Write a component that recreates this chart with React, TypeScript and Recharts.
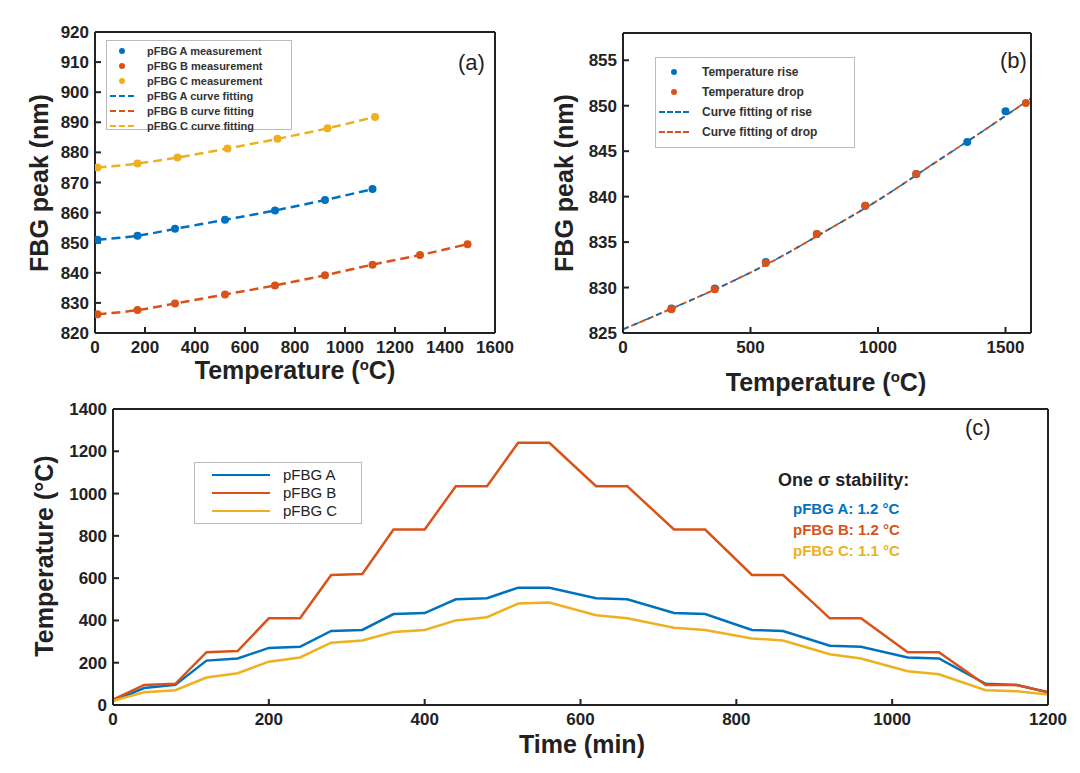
import React from "react";
import { ComposedChart, LineChart, Line, Scatter, XAxis, YAxis } from "recharts";

const BLUE = "#0072BD", ORANGE = "#D95319", YELLOW = "#EDB120";
const FONT = "'Liberation Sans', Arial, sans-serif";

// Panel (a)
const aA = [[10,851],[170,852.3],[320,854.6],[520,857.6],[720,860.7],[920,864.2],[1110,867.8]];
const aB = [[10,826.2],[170,827.6],[320,829.8],[520,832.8],[720,835.8],[920,839.2],[1110,842.7],[1300,845.9],[1490,849.5]];
const aC = [[10,875],[170,876.3],[330,878.3],[530,881.3],[730,884.5],[930,888],[1120,891.8]];
// Panel (b)
const bRise = [[190,827.7],[360,829.9],[560,832.8],[760,835.9],[950,839],[1150,842.5],[1350,846],[1500,849.4]];
const bDrop = [[190,827.6],[360,829.8],[560,832.7],[760,835.9],[950,839],[1150,842.5],[1580,850.3]];
const bFit = [[0,825.4],[200,827.8],[400,830.3],[600,833.1],[800,836.3],[1000,839.6],[1200,843.3],[1400,847],[1600,850.8]];
// Panel (c)
const cTime = [0,40,80,120,160,200,240,280,320,360,400,440,480,520,560,620,660,720,760,820,860,920,960,1020,1060,1120,1160,1200];
const cA = [20,80,95,210,220,270,275,350,355,430,435,500,505,555,555,505,500,435,430,355,350,280,275,225,220,100,95,60];
const cB = [25,95,100,250,255,410,410,615,620,830,830,1035,1035,1240,1240,1035,1035,830,830,615,615,410,410,250,250,95,95,60];
const cC = [20,60,70,130,150,205,225,295,305,345,355,400,415,480,485,425,410,365,355,315,305,240,220,160,145,70,65,50];

const toXY = (arr: number[][]) => arr.map(([x, y]) => ({ x, y }));
const cData = cTime.map((t, i) => ({ t, A: cA[i], B: cB[i], C: cC[i] }));

const tick = { fill: "#222", fontSize: 17, fontWeight: 700, fontFamily: FONT };
const line = { stroke: "#222", strokeWidth: 2 };
const tl = { stroke: "#222", strokeWidth: 2 };

function Axes(xDomain: number[], yDomain: number[], xTicks: number[], yTicks: number[], yw: number, xKey: string) {
  return [
    <XAxis key="x" xAxisId="b" type="number" dataKey={xKey} domain={xDomain} ticks={xTicks} tick={tick} height={30} axisLine={line} tickLine={tl} tickSize={-6} tickMargin={14} allowDataOverflow interval={0} />,
    <XAxis key="xt" xAxisId="t" orientation="top" type="number" dataKey={xKey} domain={xDomain} ticks={xTicks} tick={false} axisLine={line} tickLine={tl} tickSize={-6} height={1} />,
    <YAxis key="y" yAxisId="l" type="number" domain={yDomain} ticks={yTicks} tick={tick} width={yw} axisLine={line} tickLine={tl} tickSize={-6} tickMargin={12} allowDataOverflow interval={0} />,
    <YAxis key="yr" yAxisId="r" orientation="right" type="number" domain={yDomain} ticks={yTicks} tick={false} width={1} axisLine={line} tickLine={tl} tickSize={-6} />,
  ];
}

const legendRow = (kind: "dot" | "dash" | "line", color: string, text: string, w = 30) => (
  <div style={{ display: "flex", alignItems: "center", height: 15 }}>
    <div style={{ width: w, display: "flex", justifyContent: "center", marginRight: 10 }}>
      {kind === "dot" ? <div style={{ width: 6, height: 6, borderRadius: 3, background: color }} /> :
        <div style={{ width: w - 6, borderTop: `2px ${kind === "dash" ? "dashed" : "solid"} ${color}` }} />}
    </div>
    <span>{text}</span>
  </div>
);

const XTitle = ({ cx, top, children }: any) => (
  <div style={{ position: "absolute", left: cx - 200, width: 400, top, textAlign: "center", fontSize: 25, fontWeight: 700, color: "#222", whiteSpace: "nowrap" }}>{children}</div>
);
const YTitle = ({ cx, cy, children }: any) => (
  <div style={{ position: "absolute", left: cx - 150, width: 300, top: cy - 15, height: 30, textAlign: "center", fontSize: 25, fontWeight: 700, color: "#222", whiteSpace: "nowrap", transform: "rotate(-90deg)" }}>{children}</div>
);
const deg = <span><sup style={{ fontSize: 15 }}>o</sup>C</span>;

export default function App() {
  return (
    <div style={{ position: "absolute", left: 0, top: 0, width: 1080, height: 773, background: "#fff", fontFamily: FONT }}>
      <div style={{ position: "absolute", left: 0, top: 0 }}>
        <ComposedChart width={540} height={390} margin={{ top: 31, right: 44, bottom: 27, left: 0 }}>
          {Axes([0, 1600], [820, 920], [0,200,400,600,800,1000,1200,1400,1600], [820,830,840,850,860,870,880,890,900,910,920], 95, "x")}
          {[[aA, BLUE], [aB, ORANGE], [aC, YELLOW]].map(([d, c], i) => (
            <Line key={"l" + i} xAxisId="b" yAxisId="l" data={toXY(d as number[][])} dataKey="y" type="monotone" stroke={c as string} strokeWidth={2.5} strokeDasharray="9 5" dot={false} isAnimationActive={false} />
          ))}
          {[[aA, BLUE], [aB, ORANGE], [aC, YELLOW]].map(([d, c], i) => (
            <Scatter key={"s" + i} xAxisId="b" yAxisId="l" data={toXY(d as number[][])} dataKey="y" fill={c as string} shape={(p: any) => <circle cx={p.cx} cy={p.cy} r={4} fill={c as string} />} isAnimationActive={false} />
          ))}
        </ComposedChart>
      </div>
      <div style={{ position: "absolute", left: 106, top: 40, width: 186, height: 90, border: "1px solid #bbb", background: "#fff", fontSize: 11, fontWeight: 700, color: "#333", padding: "2px 0", boxSizing: "border-box" }}>
        {legendRow("dot", BLUE, "pFBG A measurement")}
        {legendRow("dot", ORANGE, "pFBG B measurement")}
        {legendRow("dot", YELLOW, "pFBG C measurement")}
        {legendRow("dash", BLUE, "pFBG A curve fitting")}
        {legendRow("dash", ORANGE, "pFBG B curve fitting")}
        {legendRow("dash", YELLOW, "pFBG C curve fitting")}
      </div>
      <div style={{ position: "absolute", left: 458, top: 50, fontSize: 22, color: "#222" }}>(a)</div>
      <XTitle cx={295} top={356}>Temperature ({deg})</XTitle>
      <YTitle cx={40} cy={183}>FBG peak (nm)</YTitle>

      <div style={{ position: "absolute", left: 540, top: 0 }}>
        <ComposedChart width={540} height={390} margin={{ top: 32, right: 48, bottom: 27, left: 0 }}>
          {Axes([0, 1600], [825, 858], [0, 500, 1000, 1500], [825,830,835,840,845,850,855], 83, "x")}
          <Line xAxisId="b" yAxisId="l" data={toXY(bFit)} dataKey="y" type="monotone" stroke={ORANGE} strokeWidth={2} strokeDasharray="6 3" dot={false} isAnimationActive={false} />
          <Line xAxisId="b" yAxisId="l" data={toXY(bFit)} dataKey="y" type="monotone" stroke={BLUE} strokeWidth={1.5} strokeDasharray="6 6" dot={false} isAnimationActive={false} />
          <Scatter xAxisId="b" yAxisId="l" data={toXY(bRise)} dataKey="y" shape={(p: any) => <circle cx={p.cx} cy={p.cy} r={4} fill={BLUE} />} isAnimationActive={false} />
          <Scatter xAxisId="b" yAxisId="l" data={toXY(bDrop)} dataKey="y" shape={(p: any) => <circle cx={p.cx} cy={p.cy} r={4} fill={ORANGE} />} isAnimationActive={false} />
        </ComposedChart>
      </div>
      <div style={{ position: "absolute", left: 655, top: 57, width: 200, height: 91, border: "1px solid #bbb", background: "#fff", fontSize: 12, fontWeight: 700, color: "#333", padding: "6px 0", boxSizing: "border-box", lineHeight: "20px" }}>
        {[["dot", BLUE, "Temperature rise"], ["dot", ORANGE, "Temperature drop"], ["dash", BLUE, "Curve fitting of rise"], ["dash", ORANGE, "Curve fitting of drop"]].map(([k, c, t]) => (
          <div key={t} style={{ height: 20 }}>{legendRow(k as any, c, t, 36)}</div>
        ))}
      </div>
      <div style={{ position: "absolute", left: 1000, top: 48, fontSize: 22, color: "#222" }}>(b)</div>
      <XTitle cx={826} top={368}>Temperature ({deg})</XTitle>
      <YTitle cx={565} cy={183}>FBG peak (nm)</YTitle>

      <div style={{ position: "absolute", left: 0, top: 390 }}>
        <LineChart width={1080} height={383} data={cData} margin={{ top: 18, right: 31, bottom: 38, left: 0 }}>
          {Axes([0, 1200], [0, 1400], [0,200,400,600,800,1000,1200], [0,200,400,600,800,1000,1200,1400], 113, "t")}
          <Line xAxisId="b" yAxisId="l" dataKey="A" stroke={BLUE} strokeWidth={2.5} dot={false} isAnimationActive={false} />
          <Line xAxisId="b" yAxisId="l" dataKey="B" stroke={ORANGE} strokeWidth={2.5} dot={false} isAnimationActive={false} />
          <Line xAxisId="b" yAxisId="l" dataKey="C" stroke={YELLOW} strokeWidth={2.5} dot={false} isAnimationActive={false} />
        </LineChart>
      </div>
      <div style={{ position: "absolute", left: 194, top: 462, width: 168, height: 62, border: "1px solid #bbb", background: "#fff", fontSize: 15, color: "#222", padding: "4px 0", boxSizing: "border-box", lineHeight: "18px" }}>
        {[[BLUE, "pFBG A"], [ORANGE, "pFBG B"], [YELLOW, "pFBG C"]].map(([c, t]) => (
          <div key={t} style={{ height: 18, marginLeft: 14 }}>{legendRow("line", c, t, 64)}</div>
        ))}
      </div>
      <div style={{ position: "absolute", left: 778, top: 470, fontSize: 18, fontWeight: 700, color: "#222" }}>One σ stability:</div>
      <div style={{ position: "absolute", left: 793, top: 498, fontSize: 15, fontWeight: 700, lineHeight: "21px" }}>
        <div style={{ color: BLUE }}>pFBG A: 1.2 °C</div>
        <div style={{ color: ORANGE }}>pFBG B: 1.2 °C</div>
        <div style={{ color: YELLOW }}>pFBG C: 1.1 °C</div>
      </div>
      <div style={{ position: "absolute", left: 965, top: 415, fontSize: 22, color: "#222" }}>(c)</div>
      <XTitle cx={582} top={730}>Time (min)</XTitle>
      <YTitle cx={45} cy={556}>Temperature ({"°"}C)</YTitle>
    </div>
  );
}
